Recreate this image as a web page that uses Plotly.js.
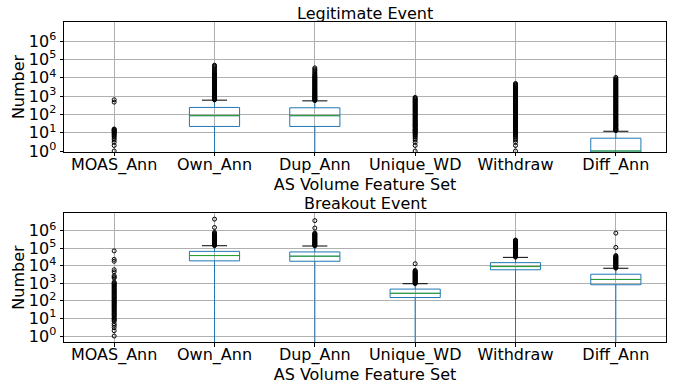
<!DOCTYPE html>
<html>
<head>
<meta charset="utf-8">
<script src="https://cdn.plot.ly/plotly-3.0.1.min.js"></script>
<style>html,body{margin:0;padding:0;background:#fff;}#chart{width:681px;height:385px;}</style>
</head>
<body>
<div id="chart"></div>
<script>
// ---------- data ----------
const categories = ['MOAS_Ann', 'Own_Ann', 'Dup_Ann', 'Unique_WD', 'Withdraw', 'Diff_Ann'];
const yTickVals = [1, 10, 100, 1000, 10000, 100000, 1000000];
const yTickText = ['10<sup>0</sup>', '10<sup>1</sup>', '10<sup>2</sup>', '10<sup>3</sup>', '10<sup>4</sup>', '10<sup>5</sup>', '10<sup>6</sup>'];

// Legitimate Event: box statistics (null = box collapsed at 0, not visible)
const legitQ1     = [null, 22, 22, null, null, 0];
const legitMedian = [null, 85, 85, null, null, 1];
const legitQ3     = [null, 240, 230, null, null, 5];
const legitLow    = [null, 0, 0, null, null, 0];
const legitHigh   = [null, 600, 550, null, null, 12];

// Legitimate Event: outliers
const legitOutMOAS = [1, 2, 3, 4, 5, 6, 7, 8, 9, 10, 11, 12, 13, 14, 15, 16, 470, 630];
const legitOutOwn = [620, 660, 700, 750, 800, 860, 920, 1000, 1080, 1170, 1260, 1370, 1480, 1600, 1750, 1900, 2050, 2250, 2450, 2650, 2900, 3150, 3450, 3750, 4100, 4500, 4900, 5400, 5900, 6400, 7000, 7700, 8400, 9200, 10000, 11000, 12000, 13200, 14500, 16000, 17500, 19500, 22000, 26000, 31000, 37000, 43000, 49000];
const legitOutDup = [570, 610, 650, 700, 750, 800, 860, 920, 1000, 1080, 1170, 1260, 1370, 1480, 1600, 1750, 1900, 2050, 2250, 2450, 2650, 2900, 3150, 3450, 3750, 4100, 4500, 4900, 5400, 5900, 6400, 7000, 7700, 8400, 9200, 10000, 11000, 12200, 13500, 15500, 18000, 21000, 25000, 30000, 35000];
const legitOutUWD = [1, 2, 3, 4, 5, 6, 7, 8, 9, 10, 11, 12, 13, 14, 15, 16, 18, 20, 22, 24, 26, 28, 30, 33, 36, 40, 44, 48, 53, 58, 64, 70, 77, 85, 93, 100, 110, 120, 135, 150, 165, 180, 200, 220, 240, 265, 290, 320, 350, 390, 430, 470, 520, 570, 630, 700, 770, 850];
const legitOutWd = [1, 2, 3, 4, 5, 6, 7, 8, 9, 10, 11, 12, 13, 14, 15, 16, 18, 20, 22, 24, 26, 28, 30, 33, 36, 40, 44, 48, 53, 58, 64, 70, 77, 85, 93, 100, 110, 120, 135, 150, 165, 180, 200, 220, 240, 265, 290, 320, 350, 390, 430, 470, 520, 570, 630, 700, 770, 850, 930, 1020, 1120, 1230, 1350, 1500, 1650, 1800, 2000, 2200, 2450, 2700, 3000, 3300, 3650, 4000, 4400, 4900];
const legitOutDiff = [13, 14, 15, 16, 17, 18, 20, 22, 24, 26, 28, 30, 33, 36, 40, 44, 48, 53, 58, 64, 70, 77, 85, 93, 100, 110, 120, 135, 150, 165, 180, 200, 220, 240, 265, 290, 320, 350, 390, 430, 470, 520, 570, 630, 700, 770, 850, 930, 1020, 1120, 1230, 1350, 1500, 1650, 1800, 2000, 2200, 2450, 2700, 3000, 3300, 3650, 4000, 4400, 4900, 5400, 6000, 6600, 7300, 8100, 9000, 10500];

// Breakout Event: box statistics
const breakQ1     = [null, 19000, 18000, 155, 5900, 830];
const breakMedian = [null, 38000, 35000, 270, 9000, 1660];
const breakQ3     = [null, 66000, 61000, 470, 15000, 3300];
const breakLow    = [null, 0, 0, 0, 0, 0];
const breakHigh   = [null, 138000, 133000, 950, 30000, 7200];

// Breakout Event: outliers
const breakOutMOAS = [1, 2, 3, 4, 5, 7, 8, 9, 10, 12, 14, 16, 18, 20, 23, 26, 30, 34, 38, 43, 48, 54, 60, 68, 76, 85, 95, 105, 120, 135, 150, 170, 190, 210, 240, 270, 300, 340, 380, 430, 480, 540, 600, 680, 760, 850, 950, 1050, 1170, 2000, 2300, 2700, 4500, 5900, 18000, 23000, 70000];
const breakOutOwn = [140000, 150000, 162000, 175000, 190000, 205000, 222000, 240000, 260000, 282000, 305000, 330000, 360000, 390000, 425000, 460000, 500000, 545000, 590000, 640000, 700000, 780000, 1500000, 4500000];
const breakOutDup = [135000, 145000, 157000, 170000, 184000, 200000, 216000, 234000, 254000, 275000, 298000, 323000, 350000, 380000, 412000, 446000, 483000, 523000, 567000, 615000, 665000, 720000, 1400000, 3700000];
const breakOutUWD = [960, 1030, 1110, 1200, 1300, 1400, 1520, 1640, 1770, 1910, 2060, 2230, 2410, 2600, 2810, 3040, 3280, 3550, 3830, 4140, 4480, 4840, 5400, 13000];
const breakOutWd = [31000, 33500, 36000, 39000, 42000, 45500, 49000, 53000, 57500, 62000, 67000, 72500, 78000, 84500, 91000, 98500, 106000, 115000, 124000, 134000, 145000, 156000, 169000, 183000, 198000, 214000, 231000, 250000, 270000, 290000];
const breakOutDiff = [7300, 7900, 8500, 9200, 9900, 10700, 11600, 12500, 13500, 14600, 15800, 17000, 18400, 19900, 21500, 23200, 25100, 27100, 29300, 31700, 34200, 38000, 110000, 720000];

const legitOutliers = [legitOutMOAS, legitOutOwn, legitOutDup, legitOutUWD, legitOutWd, legitOutDiff];
const breakOutliers = [breakOutMOAS, breakOutOwn, breakOutDup, breakOutUWD, breakOutWd, breakOutDiff];

// ---------- styling ----------
const C_BOX = '#1f77b4', C_MED = '#2ca02c', C_CAP = '#000000';
const FONT = 'DejaVu Sans, Verdana, sans-serif';
const BOX_W = 0.5, CAP_W = 0.25;
const ZERO_FLOOR = 1e-3; // zeros cannot be shown on a log axis; push them below the visible range

function positive(v) { return v <= 0 ? ZERO_FLOOR : v; }

function panelTraces(q1, med, q3, lo, hi, outliers, xa, ya) {
  const traces = [];
  const bx = [], bq1 = [], bmed = [], bq3 = [], blo = [], bhi = [];
  const mx = [], my = [], cx = [], cy = [];
  categories.forEach((c, i) => {
    const pos = i + 1;
    if (q1[i] !== null) {
      bx.push(pos); bq1.push(positive(q1[i])); bmed.push(positive(med[i]));
      bq3.push(positive(q3[i])); blo.push(positive(lo[i])); bhi.push(positive(hi[i]));
      mx.push(pos - BOX_W / 2, pos + BOX_W / 2, null); my.push(positive(med[i]), positive(med[i]), null);
      [lo[i], hi[i]].forEach(f => { if (f > 0) { cx.push(pos - CAP_W / 2, pos + CAP_W / 2, null); cy.push(f, f, null); } });
    }
  });
  traces.push({
    type: 'box', x: bx, q1: bq1, median: bmed, q3: bq3, lowerfence: blo, upperfence: bhi,
    width: BOX_W, whiskerwidth: 0, boxpoints: false,
    line: {color: C_BOX, width: 1}, fillcolor: 'rgba(0,0,0,0)',
    xaxis: xa, yaxis: ya, showlegend: false, hoverinfo: 'skip'
  });
  traces.push({type: 'scatter', mode: 'lines', x: mx, y: my, line: {color: C_MED, width: 1},
    xaxis: xa, yaxis: ya, showlegend: false, hoverinfo: 'skip'});
  traces.push({type: 'scatter', mode: 'lines', x: cx, y: cy, line: {color: C_CAP, width: 1},
    xaxis: xa, yaxis: ya, showlegend: false, hoverinfo: 'skip'});
  const ox = [], oy = [];
  outliers.forEach((arr, i) => arr.forEach(v => { ox.push(i + 1); oy.push(v); }));
  traces.push({type: 'scatter', mode: 'markers', x: ox, y: oy,
    marker: {symbol: 'circle-open', size: 4, color: '#000', line: {width: 1, color: '#000'}},
    xaxis: xa, yaxis: ya, showlegend: false, hoverinfo: 'skip', cliponaxis: true});
  return traces;
}

const data = [].concat(
  panelTraces(legitQ1, legitMedian, legitQ3, legitLow, legitHigh, legitOutliers, 'x', 'y'),
  panelTraces(breakQ1, breakMedian, breakQ3, breakLow, breakHigh, breakOutliers, 'x2', 'y2')
);

function xAxis(anchor) {
  return {
    anchor: anchor, type: 'linear', range: [0.5, 6.5],
    tickmode: 'array', tickvals: categories.map((c, i) => i + 1), ticktext: categories,
    showgrid: true, gridcolor: '#b0b0b0', gridwidth: 1, zeroline: false,
    showline: true, mirror: true, linecolor: '#000', linewidth: 1,
    ticks: 'outside', ticklen: 3.5, tickcolor: '#000', ticklabelstandoff: -6,
    tickfont: {family: FONT, size: 16, color: '#000'},
    title: {text: 'AS Volume Feature Set', font: {family: FONT, size: 16, color: '#000'}, standoff: 0}
  };
}
function yAxis(anchor, domain, range) {
  return {
    anchor: anchor, domain: domain, type: 'log', range: range,
    tickmode: 'array', tickvals: yTickVals, ticktext: yTickText,
    showgrid: true, gridcolor: '#b0b0b0', gridwidth: 1, zeroline: false,
    showline: true, mirror: true, linecolor: '#000', linewidth: 1,
    ticks: 'outside', ticklen: 3.5, tickcolor: '#000',
    tickfont: {family: FONT, size: 16, color: '#000'},
    title: {text: 'Number', font: {family: FONT, size: 16, color: '#000'}, standoff: 0}
  };
}

const layout = {
  width: 681, height: 385,
  margin: {l: 64, r: 15, t: 22, b: 43, pad: 0},
  paper_bgcolor: '#fff', plot_bgcolor: '#fff',
  font: {family: FONT, size: 16, color: '#000'},
  showlegend: false,
  xaxis: xAxis('y'),
  yaxis: yAxis('x', [0.594, 1], [-0.05, 7.05]),
  xaxis2: xAxis('y2'),
  yaxis2: yAxis('x2', [0, 0.403], [-0.34, 7.0]),
  annotations: [
    {text: 'Legitimate Event', xref: 'paper', yref: 'paper', x: 0.5, y: 1.026, xanchor: 'center', yanchor: 'middle', showarrow: false, font: {family: FONT, size: 16, color: '#000'}},
    {text: 'Breakout Event', xref: 'paper', yref: 'paper', x: 0.5, y: 0.434, xanchor: 'center', yanchor: 'middle', showarrow: false, font: {family: FONT, size: 16, color: '#000'}}
  ]
};

Plotly.newPlot('chart', data, layout, {staticPlot: true, displayModeBar: false});
</script>
</body>
</html>
